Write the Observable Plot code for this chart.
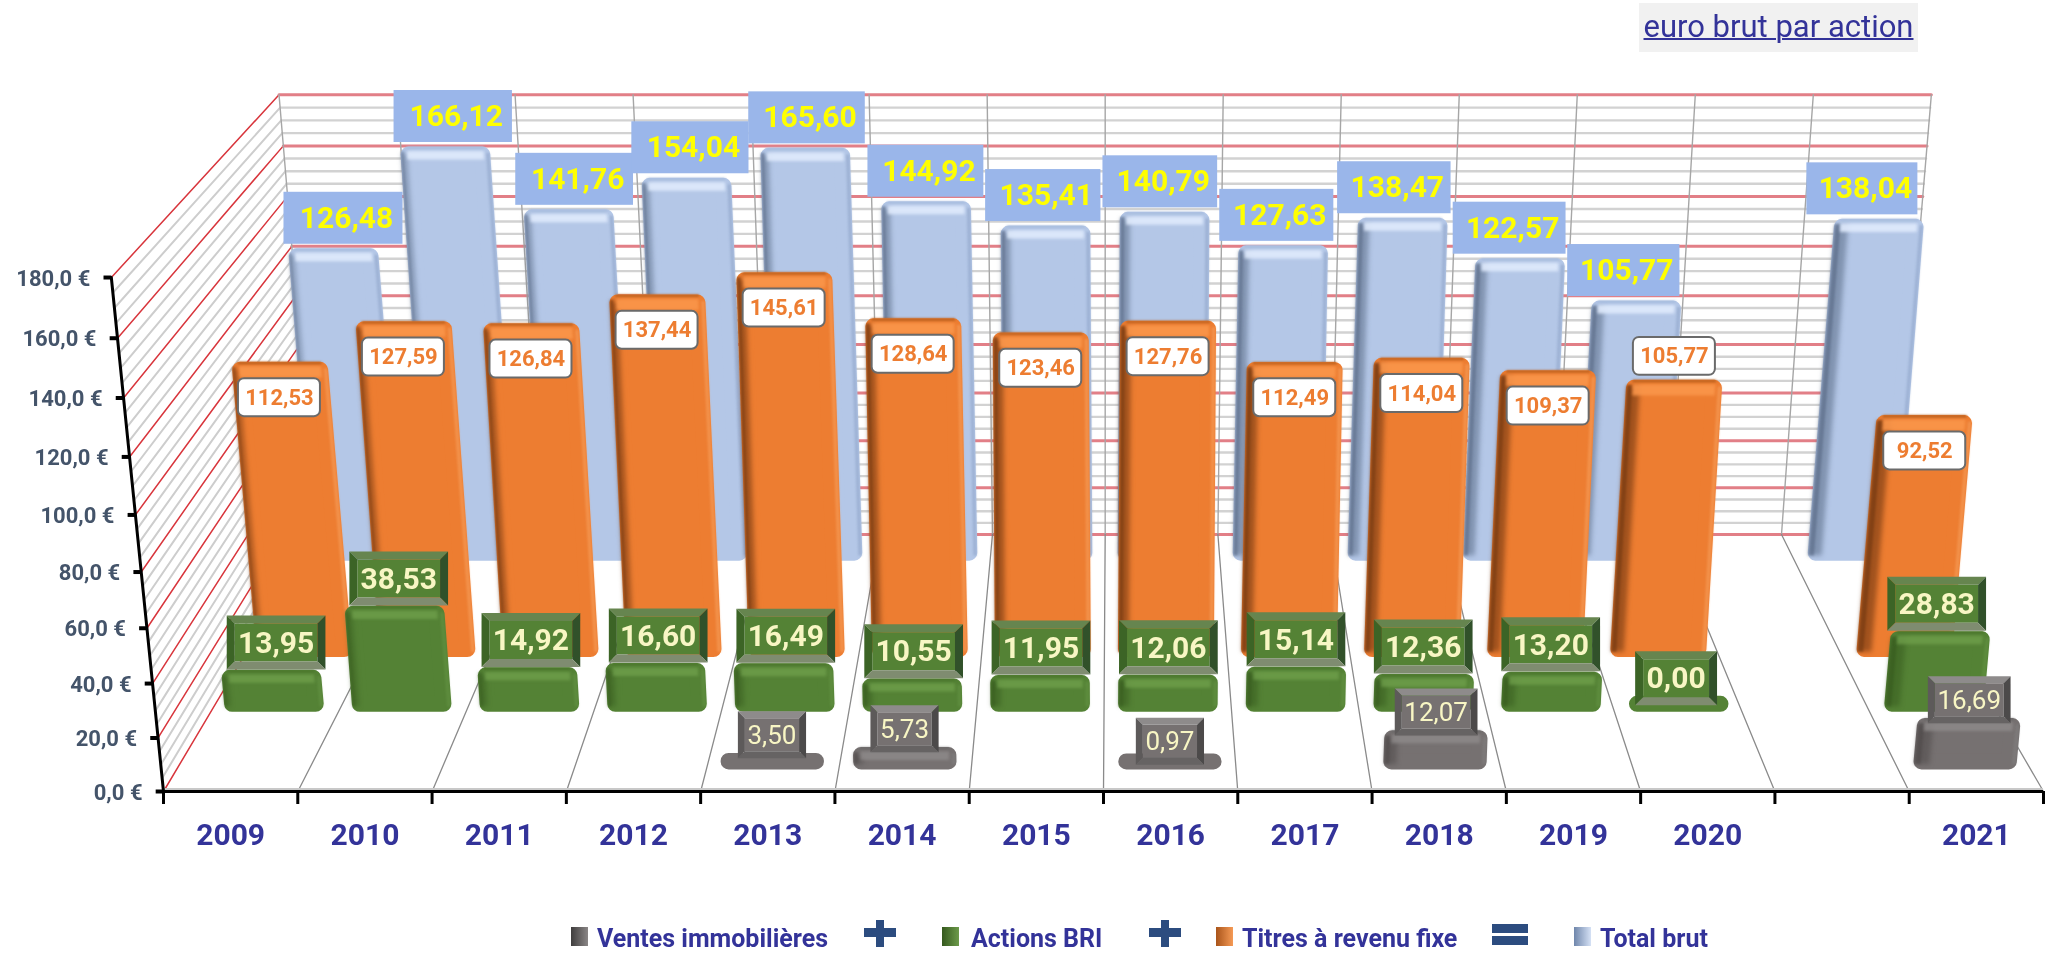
<!DOCTYPE html>
<html lang="fr"><head><meta charset="utf-8">
<script src="https://cdn.jsdelivr.net/npm/d3@7"></script>
<script src="https://cdn.jsdelivr.net/npm/@observablehq/plot@0.6"></script>
<style>
html,body{margin:0;padding:0;background:#fff;overflow:hidden;font-family:Roboto,sans-serif}
#head{position:relative;height:56px}
#title{position:absolute;left:1639px;top:3px;width:279px;height:49px;line-height:47px;background:#f1f1f1;color:#333399;font-size:31px;text-align:center;text-decoration:underline;text-decoration-thickness:2px;white-space:nowrap;filter:blur(.4px)}
#legend{position:relative;height:37px;filter:blur(.4px)}
#legend span{position:absolute;top:6px;font-size:25px;line-height:26px;font-weight:700;color:#333399;white-space:nowrap}
#legend i{position:absolute;display:block;background:#2c4c7f}
#legend b{position:absolute;display:block;top:7px;width:17px;height:19px}
</style></head><body>
<div id="head"><div id="title">euro brut par action</div></div>
<div id="chart"></div>
<div id="legend"></div>
<script>
// ---- data ----
const categories = ["2009","2010","2011","2012","2013","2014","2015","2016","2017","2018","2019","2020","","2021"];
const totalBrut  = [126.48,166.12,141.76,154.04,165.60,144.92,135.41,140.79,127.63,138.47,122.57,105.77,null,138.04];
const titres     = [112.53,127.59,126.84,137.44,145.61,128.64,123.46,127.76,112.49,114.04,109.37,105.77,null,92.52];
const actions    = [13.95,38.53,14.92,16.60,16.49,10.55,11.95,12.06,15.14,12.36,13.20,0.00,null,28.83];
const ventes     = [null,null,null,null,3.50,5.73,null,0.97,null,12.07,null,null,null,16.69];
const yTicks     = [0,20,40,60,80,100,120,140,160,180];
const legendNames = ["Ventes immobilières","Actions BRI","Titres à revenu fixe","Total brut"];

// ---- 3D projection: model (category u, depth d, value) -> apparent front-plane coordinates ----
const lerp=(a,b,t)=>a+(b-a)*t;
const H=(v,d)=>lerp(2.034,1.777,d)*v+lerp(.00086,.00053,d)*v*v;
const lean=(u,d)=>(u-7)/7*lerp(.1015,.0844,d);
const floorX=(u,d)=>lerp(125+102.93*u,242+86.4*u,d);
const floorY=d=>605-197*d;
const spacing=d=>lerp(102.93,86.4,d);
const X=s=>(s-125)/102.93, Y=s=>(605-s)/(394/180);
const pt=(u,d,h,uL=u)=>[floorX(u,d)+lean(uL,d)*h,floorY(d)-h];
const row=(p)=>({x:X(p[0]),y:Y(p[1])});
const F=1.3047; // page pixels per model unit

let pid=0;
const polys=(list,opts)=>{
  const rows=[];
  for(const pts of list){const id=pid++;for(const p of [...pts,pts[0]])rows.push({...row(p),id});}
  return Plot.line(rows,{x:"x",y:"y",z:"id",strokeWidth:0,...opts});
};
const segs=(list,opts)=>{
  const rows=[];
  for(const pts of list){const id=pid++;for(const p of pts)rows.push({...row(p),id});}
  return Plot.line(rows,{x:"x",y:"y",z:"id",...opts});
};
const fmt=(v,n=2)=>v.toFixed(n).replace(".",",");

// grid
const minor=d3.range(0,181,5).filter(v=>v%20);
const major=yTicks;
const allU=d3.range(0,15);
const grid=[
  segs(minor.map(v=>[pt(0,0,H(v,0)),pt(0,1,H(v,1))]),{stroke:"#cdcdcd",strokeWidth:2}),
  segs(major.map(v=>[pt(0,0,H(v,0)),pt(0,1,H(v,1))]),{stroke:"#d8353c",strokeWidth:1.5}),
  segs(minor.map(v=>[pt(0,1,H(v,1)),pt(14,1,H(v,1))]),{stroke:"#d2d2d2",strokeWidth:2.4}),
  segs(major.map(v=>[pt(0,1,H(v,1)),pt(14,1,H(v,1))]),{stroke:"#e27f87",strokeWidth:3}),
  segs(allU.map(u=>[pt(u,1,0),pt(u,1,H(180,1))]),{stroke:"#a6a6a6",strokeWidth:1.4}),
  segs(allU.slice(1).map(u=>[pt(u,0,0),pt(u,1,0)]),{stroke:"#8a8a8a",strokeWidth:1.3})
];

// bars
const R=8/F;
function barMarks(vals,d,extra,st){
  const body=[],left1=[],left2=[],right=[],band=[],rim=[];
  const r=R;
  vals.forEach((v,i)=>{
    if(v==null)return;
    const uc=i+.5,ul=i+.11,ur=i+.89,h=H(v,d)+extra,du=r/spacing(d);
    const a=ul+du,b=ur-du,lo=r,hi=Math.max(r,h-r);
    const q=(x0,x1,y0,y1)=>[pt(x0,d,y0,uc),pt(x1,d,y0,uc),pt(x1,d,y1,uc),pt(x0,d,y1,uc)];
    body.push(q(a,b,lo,hi));
    if(h>14){
      const w=lerp(.045,.125,(i+.5)/14);
      left1.push(q(ul+.01,ul+w,4,h-5));
      left2.push(q(ul+.005,ul+w*.45,4,h-4));
      right.push(q(ur-.035,ur-.005,4,h-5));
      const t=Math.min(h-5,st.bandH);
      rim.push(q(ul+.05,ur-.05,h-2,h));
      band.push(q(ul+.055,ur-.055,h-t-1,h-3.5));
    }
  });
  return [
    polys(body,{fill:st.main,stroke:st.main,strokeWidth:2*r*F,strokeLinejoin:"round"}),
    polys(left1,{fill:st.dark,fillOpacity:st.l1,imageFilter:"blur(2.5px)"}),
    polys(left2,{fill:st.dark,fillOpacity:st.l2,imageFilter:"blur(1px)"}),
    polys(right,{fill:st.rightC,fillOpacity:st.r,imageFilter:"blur(1.2px)"}),
    polys(rim,{fill:st.rim,fillOpacity:st.rimO,imageFilter:"blur(.8px)"}),
    polys(band,{fill:st.hi,fillOpacity:st.hiO,imageFilter:"blur(1.6px)"})
  ];
}
const dBlue=.898,dOrange=.523,dGreen=.31,dGray=.086;
const xBlue={main:"#b4c7e7",dark:"#4e5f7a",l1:.5,l2:.55,rightC:"#8ea4c8",r:.6,hi:"#dfeafc",hiO:.9,bandH:9,rim:"#a4b9dc",rimO:.7};
const xOrange={main:"#ed7d31",dark:"#6e3610",l1:.6,l2:.65,rightC:"#f59a55",r:.7,hi:"#f9964a",hiO:.9,bandH:11,rim:"#b85f1e",rimO:.9};
const xGreen={main:"#548235",dark:"#2c4d17",l1:.4,l2:.4,rightC:"#6c9a4a",r:.4,hi:"#70a04c",hiO:.75,bandH:9,rim:"#487329",rimO:.7};
const xGray={main:"#767171",dark:"#403d3d",l1:.4,l2:.4,rightC:"#888",r:.4,hi:"#8f8b8b",hiO:.8,bandH:9,rim:"#666",rimO:.6};

// labels
const box=(cx,cy,wPx,hPx)=>{const w=wPx/F/2,h=hPx/F/2;return {x1:X(cx-w),x2:X(cx+w),y1:Y(cy+h),y2:Y(cy-h),tx:X(cx),ty:Y(cy)};};
function centers(vals,d,extra,off,dxf){
  return vals.map((v,i)=>{
    if(v==null)return null;
    const uc=i+.5,h=H(v,d)+extra,p=pt(uc,d,h);
    return {i,v,cx:p[0]+dxf(i),cy:p[1]+(typeof off==="function"?off(i):off)};
  }).filter(Boolean);
}
const textWidth=(s,fs)=>(s.replace(",","").length*.56+.25)*fs;
function bevel(items,fs,st,wOf,hPx,t,weight){
  const T=t/F,tops=[],lefts=[],rights=[],bots=[],inner=[],txt=[];
  for(const it of items){
    const s=fmt(it.v),W=wOf(s)/F/2,Hh=hPx/F/2,c=[it.cx,it.cy];
    const A=[c[0]-W,c[1]-Hh],B=[c[0]+W,c[1]-Hh],C=[c[0]+W,c[1]+Hh],D=[c[0]-W,c[1]+Hh];
    const a=[A[0]+T,A[1]+T],b=[B[0]-T,B[1]+T],cc=[C[0]-T,C[1]-T],dd=[D[0]+T,D[1]-T];
    tops.push([A,B,b,a]);rights.push([B,C,cc,b]);bots.push([C,D,dd,cc]);lefts.push([D,A,a,dd]);inner.push([a,b,cc,dd]);
    txt.push({x:X(c[0]),y:Y(c[1]+.5),t:s});
  }
  return [
    polys(inner,{fill:st.inner}),polys(tops,{fill:st.top}),polys(lefts,{fill:st.left}),
    polys(rights,{fill:st.right}),polys(bots,{fill:st.bottom}),
    Plot.text(txt,{x:"x",y:"y",text:"t",fill:"#f8f6c4",fontSize:fs,fontWeight:weight,lineAnchor:"middle"})
  ];
}
const eBlue=2.4,eOrange=3.9,eGreen=4.8,eGray=5.6;
const blueC=centers(totalBrut,dBlue,eBlue,-23,i=>8-21*i/13);
const orangeC=centers(titres,dOrange,eOrange,i=>categories[i]==="2020"?-18:27.5,i=>0);
const greenC=centers(actions,dGreen,eGreen,-21,i=>4-7*i/13);
const grayC=centers(ventes,dGray,eGray,-14,i=>0);

const blueRect=blueC.map(c=>({...box(c.cx,c.cy,lerp(119,111,c.i/13),52),t:fmt(c.v)}));
const orangeRect=orangeC.map(c=>({...box(c.cx,c.cy,82,38),t:fmt(c.v)}));

const marks=[
  ...grid,
  ...barMarks(totalBrut,dBlue,eBlue,xBlue),
  Plot.ruleY([0],{stroke:"#c8c8c8",strokeWidth:2,dy:-2.5}),
  Plot.ruleY([0],{stroke:"#000",strokeWidth:3}),
  segs([[pt(0,0,0),pt(0,0,H(180,0))]],{stroke:"#000",strokeWidth:3}),
  Plot.link(yTicks.map(v=>{const p=pt(0,0,H(v,0));return {x1:X(p[0]-6),x2:X(p[0]),y:Y(p[1])};}),{x1:"x1",x2:"x2",y1:"y",y2:"y",stroke:"#000",strokeWidth:4}),
  Plot.text(yTicks.map(v=>{const p=pt(0,0,H(v,0));return {x:X(p[0]),y:Y(p[1]),t:fmt(v,1)+" €"};}),{x:"x",y:"y",text:"t",textAnchor:"end",dx:-21,dy:1,fill:"#44546a",fontSize:22,fontWeight:700,lineAnchor:"middle"}),
  Plot.axisX({ticks:d3.range(0,15),tickSize:13,strokeWidth:3,stroke:"#000",tickFormat:()=>"",label:null}),
  Plot.axisX({ticks:categories.map((c,i)=>i+.5),tickSize:0,tickPadding:32,tickFormat:t=>categories[Math.floor(t)],fontSize:30,fontWeight:700,fill:"#333399",label:null}),
  ...barMarks(titres,dOrange,eOrange,xOrange),
  ...barMarks(actions,dGreen,eGreen,xGreen),
  ...barMarks(ventes,dGray,eGray,xGray),
  Plot.rect(blueRect,{x1:"x1",x2:"x2",y1:"y1",y2:"y2",fill:"#9ab6ea"}),
  Plot.text(blueRect,{x:"tx",y:"ty",text:"t",fill:"#ffff00",fontSize:30,fontWeight:700,lineAnchor:"middle",dx:3}),
  Plot.rect(orangeRect,{x1:"x1",x2:"x2",y1:"y1",y2:"y2",fill:"#fff",stroke:"#6a6a6a",strokeWidth:2,rx:6}),
  Plot.text(orangeRect,{x:"tx",y:"ty",text:"t",fill:"#ed7d31",fontSize:22,fontWeight:700,lineAnchor:"middle"}),
  ...bevel(greenC,30,{inner:"#548235",top:"#66854f",left:"#3c6426",right:"#31512a",bottom:"#7f8c70"},s=>textWidth(s,30)+24,54,8,700),
  ...bevel(grayC,26,{inner:"#767171",top:"#8e8b8b",left:"#5d5a5a",right:"#4c4a4a",bottom:"#666363"},s=>textWidth(s,26)+18,47,7,400)
];

const plot=Plot.plot({
  width:2046,height:864,marginLeft:163,marginRight:3,marginTop:221,marginBottom:129,
  x:{type:"linear",domain:[0,14]},
  y:{type:"linear",domain:[0,180],axis:null},
  style:{fontFamily:"Roboto, sans-serif",background:"transparent",overflow:"visible",filter:"blur(.45px)"},
  marks
});
document.getElementById("chart").appendChild(plot);

// legend
const L=document.getElementById("legend");
const sw=[["#3f3d3d","#8a8686"],["#35591e","#6c9a4a"],["#a9541a","#f59a55"],["#6f86ab","#d5e1f5"]];
[[571,597],[942,971],[1216,1242],[1574,1600]].forEach((p,i)=>{
  const b=document.createElement("b");b.style.left=p[0]+"px";
  b.style.background=`linear-gradient(90deg,${sw[i][0]},${sw[i][1]})`;L.appendChild(b);
  const s=document.createElement("span");s.textContent=legendNames[i];s.style.left=p[1]+"px";L.appendChild(s);
});
const bar=(l,t,w,h)=>{const e=document.createElement("i");e.style.cssText=`left:${l}px;top:${t}px;width:${w}px;height:${h}px`;L.appendChild(e);};
for(const x of [864,1149]){bar(x,8,32,9);bar(x+12,0,8,27);}
bar(1492,4,36,9);bar(1492,16,36,9);
</script>
</body></html>
